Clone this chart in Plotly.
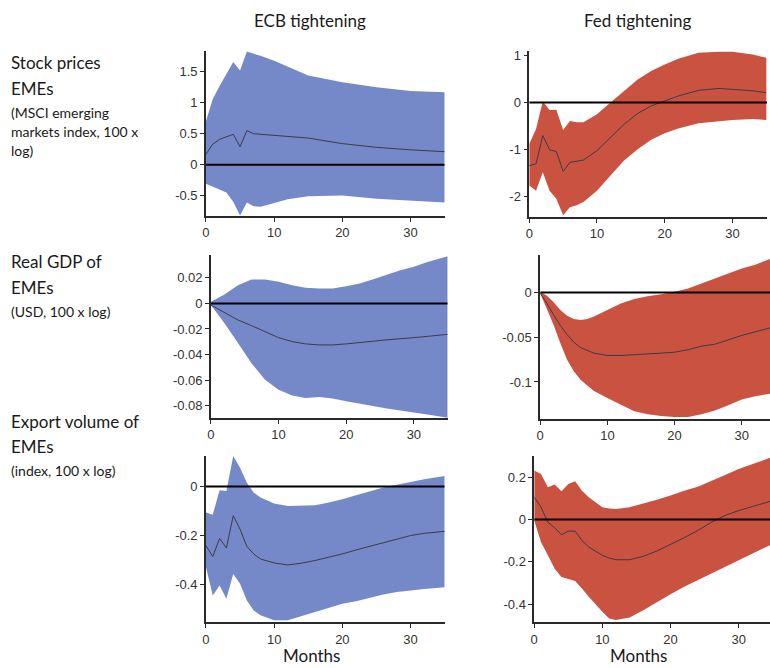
import plotly.graph_objects as go

W, H = 770, 668

# ---- data: impulse responses (median and 68% band) by month ----
stock_ecb_months = [0, 1, 2, 3, 4, 5, 6, 7, 8, 10, 12, 15, 20, 25, 30, 35]
stock_ecb_upper = [0.70, 1.06, 1.27, 1.46, 1.66, 1.52, 1.83, 1.79, 1.76, 1.68, 1.58, 1.44, 1.33, 1.25, 1.19, 1.17]
stock_ecb_median = [0.17, 0.33, 0.41, 0.45, 0.49, 0.29, 0.55, 0.50, 0.49, 0.47, 0.46, 0.43, 0.34, 0.28, 0.24, 0.21]
stock_ecb_lower = [-0.31, -0.36, -0.40, -0.45, -0.60, -0.82, -0.61, -0.67, -0.68, -0.62, -0.56, -0.51, -0.50, -0.55, -0.58, -0.61]

stock_fed_months = [0, 1, 2, 3, 4, 5, 6, 7, 8, 10, 12, 14, 16, 18, 20, 22, 25, 28, 30, 33, 35]
stock_fed_upper = [-0.88, -0.56, 0.03, -0.16, -0.15, -0.58, -0.39, -0.42, -0.42, -0.25, 0.0, 0.25, 0.49, 0.67, 0.81, 0.93, 1.06, 1.08, 1.08, 1.02, 0.95]
stock_fed_median = [-1.34, -1.30, -0.70, -1.00, -1.04, -1.46, -1.27, -1.25, -1.22, -1.02, -0.74, -0.46, -0.23, -0.07, 0.035, 0.14, 0.26, 0.30, 0.28, 0.25, 0.21]
stock_fed_lower = [-1.76, -1.87, -1.48, -1.87, -2.04, -2.39, -2.22, -2.18, -2.11, -1.87, -1.55, -1.23, -0.99, -0.79, -0.65, -0.55, -0.44, -0.39, -0.37, -0.35, -0.37]

gdp_ecb_months = [0, 2, 4, 6, 8, 10, 12, 14, 16, 18, 20, 22, 24, 26, 28, 30, 32, 35]
gdp_ecb_upper = [0.0013, 0.007, 0.0143, 0.0187, 0.0187, 0.0169, 0.0143, 0.0122, 0.0117, 0.0117, 0.0135, 0.0156, 0.019, 0.0226, 0.026, 0.0286, 0.0325, 0.037]
gdp_ecb_median = [-0.0013, -0.0073, -0.013, -0.0174, -0.022, -0.0268, -0.0299, -0.0317, -0.0325, -0.0325, -0.0317, -0.0304, -0.0296, -0.0285, -0.0278, -0.0268, -0.0258, -0.0242]
gdp_ecb_lower = [-0.0013, -0.0156, -0.031, -0.0468, -0.0597, -0.0675, -0.072, -0.074, -0.0732, -0.0745, -0.0766, -0.0787, -0.0805, -0.0823, -0.0839, -0.0857, -0.087, -0.0896]

gdp_fed_months = [0, 1, 2, 3, 4, 5, 6, 7, 8, 10, 12, 14, 16, 18, 20, 22, 24, 26, 28, 30, 32, 35]
gdp_fed_upper = [0.0007, -0.0037, -0.011, -0.0196, -0.026, -0.0296, -0.0307, -0.0296, -0.027, -0.0196, -0.0122, -0.0074, -0.0041, -0.0019, 0.0007, 0.0044, 0.010, 0.0156, 0.0211, 0.0267, 0.031, 0.0396]
gdp_fed_median = [-0.001, -0.0122, -0.025, -0.037, -0.047, -0.0556, -0.0615, -0.065, -0.0678, -0.0704, -0.0704, -0.0695, -0.0689, -0.0678, -0.0667, -0.064, -0.060, -0.0578, -0.053, -0.048, -0.044, -0.038]
gdp_fed_lower = [-0.001, -0.0178, -0.0363, -0.0567, -0.0752, -0.088, -0.0974, -0.104, -0.110, -0.1178, -0.1252, -0.1326, -0.136, -0.138, -0.139, -0.139, -0.136, -0.132, -0.126, -0.1196, -0.116, -0.112]

exp_ecb_months = [0, 1, 2, 3, 4, 5, 6, 7, 8, 10, 12, 14, 16, 18, 20, 22, 24, 26, 28, 30, 32, 35]
exp_ecb_upper = [-0.106, -0.115, -0.015, -0.018, 0.125, 0.077, 0.016, -0.024, -0.045, -0.069, -0.079, -0.079, -0.076, -0.065, -0.052, -0.035, -0.018, -0.004, 0.007, 0.020, 0.030, 0.043]
exp_ecb_median = [-0.241, -0.286, -0.212, -0.251, -0.119, -0.174, -0.245, -0.275, -0.296, -0.312, -0.320, -0.313, -0.302, -0.289, -0.275, -0.259, -0.244, -0.228, -0.214, -0.200, -0.191, -0.183]
exp_ecb_lower = [-0.329, -0.445, -0.404, -0.458, -0.357, -0.397, -0.465, -0.506, -0.526, -0.546, -0.546, -0.530, -0.513, -0.495, -0.479, -0.468, -0.454, -0.441, -0.431, -0.424, -0.418, -0.411]

exp_fed_months = [0, 1, 2, 3, 4, 5, 6, 7, 8, 10, 11, 12, 14, 16, 18, 20, 22, 24, 26, 28, 30, 32, 35]
exp_fed_upper = [0.231, 0.215, 0.152, 0.165, 0.133, 0.168, 0.180, 0.136, 0.105, 0.058, 0.052, 0.050, 0.058, 0.074, 0.093, 0.113, 0.136, 0.155, 0.184, 0.210, 0.238, 0.262, 0.296]
exp_fed_median = [0.105, 0.058, -0.013, -0.039, -0.072, -0.055, -0.055, -0.099, -0.130, -0.169, -0.182, -0.190, -0.190, -0.174, -0.149, -0.118, -0.086, -0.052, -0.013, 0.019, 0.042, 0.061, 0.089]
exp_fed_lower = [-0.005, -0.107, -0.169, -0.232, -0.271, -0.279, -0.290, -0.326, -0.365, -0.436, -0.467, -0.475, -0.463, -0.428, -0.389, -0.353, -0.318, -0.287, -0.256, -0.224, -0.193, -0.162, -0.115]

# ---- tick labels ----
month_ticks = [0, 10, 20, 30]
month_tick_labels = ["0", "10", "20", "30"]
stock_ecb_ticks = [-0.5, 0, 0.5, 1, 1.5]
stock_ecb_tick_labels = ["-0.5", "0", "0.5", "1", "1.5"]
stock_fed_ticks = [-2, -1, 0, 1]
stock_fed_tick_labels = ["-2", "-1", "0", "1"]
gdp_ecb_ticks = [-0.08, -0.06, -0.04, -0.02, 0, 0.02]
gdp_ecb_tick_labels = ["-0.08", "-0.06", "-0.04", "-0.02", "0", "0.02"]
gdp_fed_ticks = [-0.1, -0.05, 0]
gdp_fed_tick_labels = ["-0.1", "-0.05", "0"]
exp_ecb_ticks = [-0.4, -0.2, 0]
exp_ecb_tick_labels = ["-0.4", "-0.2", "0"]
exp_fed_ticks = [-0.4, -0.2, 0, 0.2]
exp_fed_tick_labels = ["-0.4", "-0.2", "0", "0.2"]

column_titles = ["ECB tightening", "Fed tightening"]
row_titles = [
    ["Stock prices", "EMEs"],
    ["Real GDP of", "EMEs"],
    ["Export volume of", "EMEs"],
]
row_notes = [
    ["(MSCI emerging", "markets index, 100 x", "log)"],
    ["(USD, 100 x log)"],
    ["(index, 100 x log)"],
]
x_title = "Months"

BLUE = "#7589c8"
RED = "#ca5241"
MEDIAN = "#3c3c46"
AXIS = "#2a2a2a"
TEXT = "#1a1a1a"
TICKFONT = dict(family="Liberation Sans, Arial, sans-serif", size=13, color="#333333")
LABELFONT = "Lato, Open Sans, sans-serif"


def px_x(p):
    return p / W


def px_y(p):
    return 1 - p / H


# panel layout in pixels: (left, right, top, bottom), x range, y range
panels = [
    dict(months=stock_ecb_months, lo=stock_ecb_lower, md=stock_ecb_median, hi=stock_ecb_upper,
         color=BLUE, box=(203, 443, 48, 214), xr=[0, 35], yr=[-0.83, 1.84],
         yt=stock_ecb_ticks, ytl=stock_ecb_tick_labels),
    dict(months=stock_fed_months, lo=stock_fed_lower, md=stock_fed_median, hi=stock_fed_upper,
         color=RED, box=(528, 767, 48, 215), xr=[0, 35.1], yr=[-2.43, 1.1],
         yt=stock_fed_ticks, ytl=stock_fed_tick_labels),
    dict(months=gdp_ecb_months, lo=gdp_ecb_lower, md=gdp_ecb_median, hi=gdp_ecb_upper,
         color=BLUE, box=(208, 446, 253, 417), xr=[0, 35], yr=[-0.0898, 0.038],
         yt=gdp_ecb_ticks, ytl=gdp_ecb_tick_labels),
    dict(months=gdp_fed_months, lo=gdp_fed_lower, md=gdp_fed_median, hi=gdp_fed_upper,
         color=RED, box=(539, 770, 253, 418), xr=[0, 34.2], yr=[-0.1415, 0.042],
         yt=gdp_fed_ticks, ytl=gdp_fed_tick_labels),
    dict(months=exp_ecb_months, lo=exp_ecb_lower, md=exp_ecb_median, hi=exp_ecb_upper,
         color=BLUE, box=(203, 443, 455, 622), xr=[0, 35], yr=[-0.554, 0.125],
         yt=exp_ecb_ticks, ytl=exp_ecb_tick_labels),
    dict(months=exp_fed_months, lo=exp_fed_lower, md=exp_fed_median, hi=exp_fed_upper,
         color=RED, box=(533, 770, 455, 622), xr=[0, 34.6], yr=[-0.485, 0.30],
         yt=exp_fed_ticks, ytl=exp_fed_tick_labels),
]

fig = go.Figure()
layout = dict(
    width=W, height=H, margin=dict(l=0, r=0, t=0, b=0),
    paper_bgcolor="white", plot_bgcolor="white", showlegend=False,
)
shapes = []

for i, p in enumerate(panels, start=1):
    xa = "x" if i == 1 else f"x{i}"
    ya = "y" if i == 1 else f"y{i}"
    fig.add_trace(go.Scatter(x=p["months"], y=p["lo"], mode="lines", line=dict(width=0, color=p["color"]),
                             xaxis=xa, yaxis=ya, hoverinfo="skip"))
    fig.add_trace(go.Scatter(x=p["months"], y=p["hi"], mode="lines", line=dict(width=0, color=p["color"]),
                             fill="tonexty", fillcolor=p["color"], xaxis=xa, yaxis=ya, hoverinfo="skip"))
    fig.add_trace(go.Scatter(x=p["months"], y=p["md"], mode="lines", line=dict(width=1, color=MEDIAN),
                             xaxis=xa, yaxis=ya))
    l, r, t, b = p["box"]
    axis_common = dict(showline=True, linecolor=AXIS, linewidth=1.5, ticks="outside", ticklen=4,
                       tickwidth=1, tickcolor=AXIS, showgrid=False, zeroline=False,
                       tickfont=TICKFONT, layer="above traces", fixedrange=True)
    layout["xaxis" if i == 1 else f"xaxis{i}"] = dict(
        domain=[px_x(l), px_x(r)], range=p["xr"], anchor=ya,
        tickvals=month_ticks, ticktext=month_tick_labels, **axis_common)
    layout["yaxis" if i == 1 else f"yaxis{i}"] = dict(
        domain=[px_y(b), px_y(t)], range=p["yr"], anchor=xa,
        tickvals=p["yt"], ticktext=p["ytl"], **axis_common)
    # zero reference line
    shapes.append(dict(type="line", xref=xa, yref=ya, x0=0, x1=p["xr"][1], y0=0, y1=0,
                       line=dict(color="black", width=2), layer="above"))

annotations = []
for title, cx in zip(column_titles, [308, 637]):
    annotations.append(dict(text=title, x=px_x(cx), y=px_y(18), xref="paper", yref="paper",
                            showarrow=False, xanchor="center", yanchor="middle",
                            font=dict(family=LABELFONT, size=17, color=TEXT)))
for cx in [309, 638]:
    annotations.append(dict(text=x_title, x=px_x(cx), y=px_y(655), xref="paper", yref="paper",
                            showarrow=False, xanchor="center", yanchor="middle",
                            font=dict(family=LABELFONT, size=17, color=TEXT)))

row_tops = [60, 260, 420]
for titles, notes, y0 in zip(row_titles, row_notes, row_tops):
    y = y0
    for line in titles:
        annotations.append(dict(text=line, x=px_x(5), y=px_y(y), xref="paper", yref="paper",
                                showarrow=False, xanchor="left", yanchor="middle",
                                font=dict(family=LABELFONT, size=17, color=TEXT)))
        y += 26
    y -= 2
    for line in notes:
        annotations.append(dict(text=line, x=px_x(5), y=px_y(y), xref="paper", yref="paper",
                                showarrow=False, xanchor="left", yanchor="middle",
                                font=dict(family=LABELFONT, size=14, color=TEXT)))
        y += 19

layout["shapes"] = shapes
layout["annotations"] = annotations
fig.update_layout(**layout)
fig.write_html("out.html")
